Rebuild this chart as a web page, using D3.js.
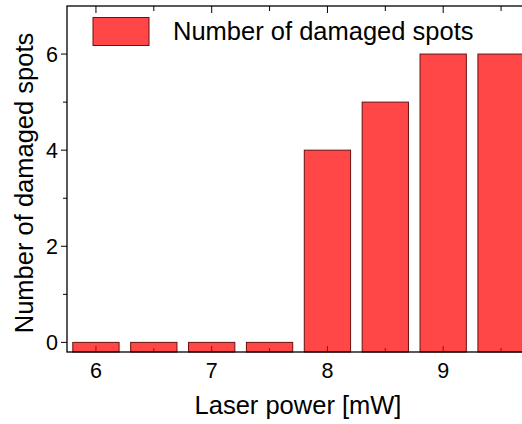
<!DOCTYPE html>
<html>
<head>
<meta charset="utf-8">
<script src="https://cdn.jsdelivr.net/npm/d3@7"></script>
<style>
  html, body { margin: 0; padding: 0; background: #fff; overflow: hidden; }
  svg { display: block; font-family: Arial, "Liberation Sans", sans-serif; }
</style>
</head>
<body>
<div id="chart"></div>
<script>
// Data
var power = [6, 6.5, 7, 7.5, 8, 8.5, 9, 9.5];
var spots = [0, 0, 0, 0, 4, 5, 6, 6];
var xTicks = [6, 7, 8, 9];
var xMinorTicks = [6.5, 7.5, 8.5, 9.5];
var yTicks = [0, 2, 4, 6];
var yMinorTicks = [1, 3, 5];
var seriesName = 'Number of damaged spots';

var width = 540, height = 424;
var margin = {top: 6, right: 10, bottom: 72, left: 67};
var plotW = 463, plotH = 346;

var svg = d3.select('#chart').append('svg')
  .attr('width', width).attr('height', height);
var g = svg.append('g').attr('transform', 'translate(' + margin.left + ',' + margin.top + ')');

var x = d3.scaleLinear().domain([5.75, 9.75]).range([0, plotW]);
var y = d3.scaleLinear().domain([-0.2, 7]).range([plotH, 0]);
var barW = (x(6.5) - x(6)) * 0.8;

//Ticks (drawn under the bars so they show through)
var tickColor = '#000';
g.selectAll('.xt-bot').data(xTicks.concat(xMinorTicks)).enter().append('line')
  .attr('x1', function(d){ return x(d); }).attr('x2', function(d){ return x(d); })
  .attr('y1', plotH).attr('y2', function(d){ return plotH - (xTicks.indexOf(d) >= 0 ? 6 : 4); })
  .attr('stroke', tickColor).attr('stroke-width', 1);
g.selectAll('.xt-top').data(xTicks.concat(xMinorTicks)).enter().append('line')
  .attr('x1', function(d){ return x(d); }).attr('x2', function(d){ return x(d); })
  .attr('y1', 0).attr('y2', function(d){ return xTicks.indexOf(d) >= 0 ? 7 : 5; })
  .attr('stroke', tickColor).attr('stroke-width', 1);

//Bars
g.selectAll('.bar').data(power).enter().append('rect')
  .attr('class', 'bar')
  .attr('x', function(d){ return x(d) - barW / 2; })
  .attr('width', barW)
  .attr('y', function(d, i){ return y(spots[i]); })
  .attr('height', function(d, i){ return y(y.domain()[0]) - y(spots[i]); })
  .attr('fill', '#ff0000').attr('fill-opacity', 0.72)
  .attr('stroke', '#6a1010').attr('stroke-width', 1);

//Y ticks (outside)
g.selectAll('.yt').data(yTicks.concat(yMinorTicks)).enter().append('line')
  .attr('x1', 0).attr('x2', function(d){ return yTicks.indexOf(d) >= 0 ? -6 : -4; })
  .attr('y1', function(d){ return y(d); }).attr('y2', function(d){ return y(d); })
  .attr('stroke', '#000').attr('stroke-width', 1);

//Frame
g.append('rect').attr('x', 0).attr('y', 0).attr('width', plotW).attr('height', plotH)
  .attr('fill', 'none').attr('stroke', '#000').attr('stroke-width', 1.3);

//Tick labels
g.selectAll('.xl').data(xTicks).enter().append('text')
  .attr('x', function(d){ return x(d); }).attr('y', plotH + 26)
  .attr('text-anchor', 'middle').attr('font-size', 21.5).text(function(d){ return d; });
g.selectAll('.yl').data(yTicks).enter().append('text')
  .attr('x', -9).attr('y', function(d){ return y(d); })
  .attr('dy', '0.36em')
  .attr('text-anchor', 'end').attr('font-size', 21.5).text(function(d){ return d; });

//Axis titles
svg.append('text').attr('x', 298).attr('y', 414)
  .attr('text-anchor', 'middle').attr('font-size', 25.5).text('Laser power [mW]');
svg.append('text').attr('transform', 'translate(33,183) rotate(-90)')
  .attr('text-anchor', 'middle').attr('font-size', 25.5).text(seriesName);

//Legend
svg.append('rect').attr('x', 93).attr('y', 17.5).attr('width', 56).attr('height', 28)
  .attr('fill', '#ff0000').attr('fill-opacity', 0.72)
  .attr('stroke', '#6a1010').attr('stroke-width', 1);
svg.append('text').attr('x', 173).attr('y', 40)
  .attr('font-size', 25.5).text(seriesName);
</script>
</body>
</html>
